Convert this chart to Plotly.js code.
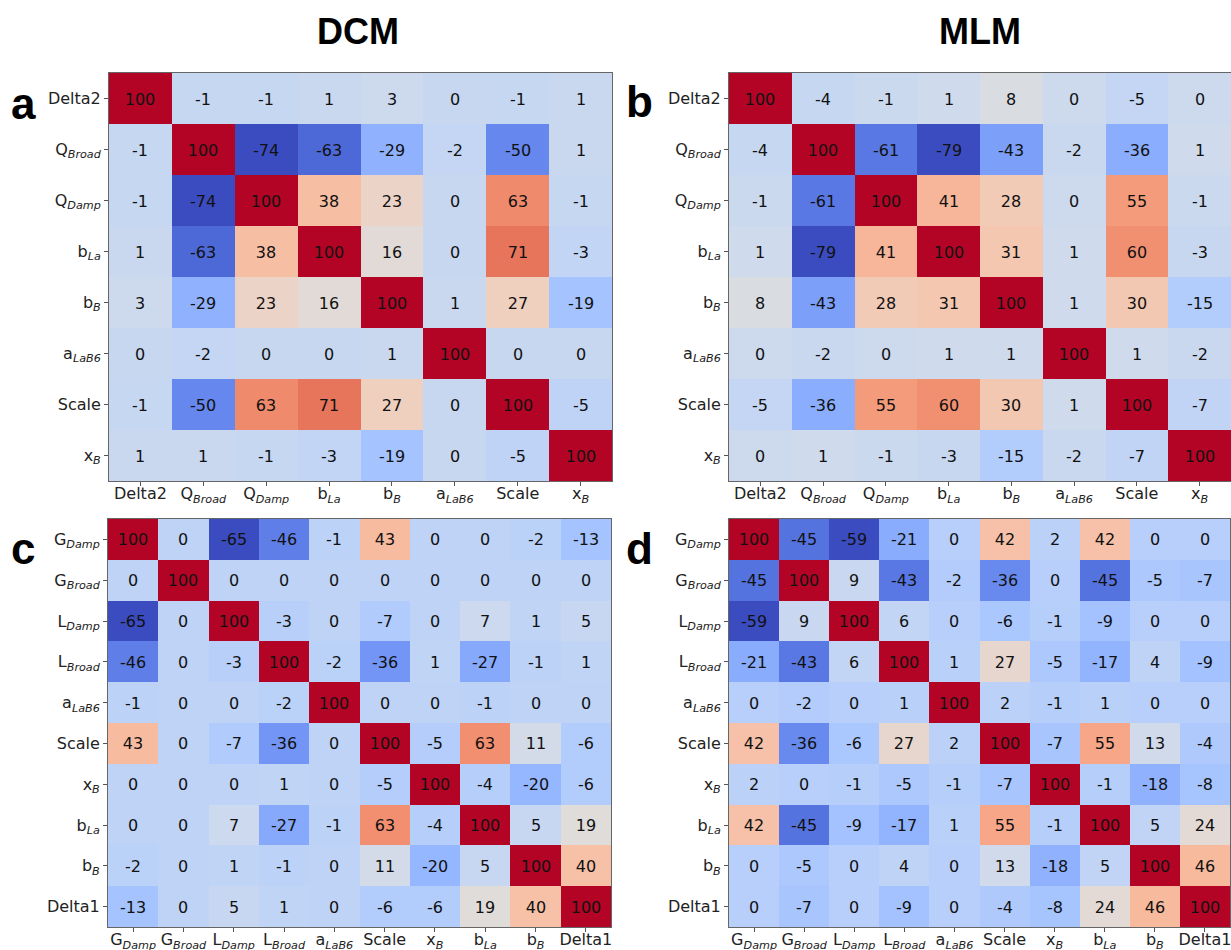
<!DOCTYPE html>
<html>
<head>
<meta charset="utf-8">
<script src="https://cdn.plot.ly/plotly-3.0.1.min.js"></script>
<style>html,body{margin:0;padding:0;background:#fff;}#chart{width:1231px;height:950px;}</style>
</head>
<body>
<div id="chart"></div>
<script>
// ---- Data ----
const labelsTop = ["Delta2", "Q<sub><i>Broad</i></sub>", "Q<sub><i>Damp</i></sub>", "b<sub><i>La</i></sub>",
  "b<sub><i>B</i></sub>", "a<sub><i>LaB6</i></sub>", "Scale", "x<sub><i>B</i></sub>"];
const labelsBottom = ["G<sub><i>Damp</i></sub>", "G<sub><i>Broad</i></sub>", "L<sub><i>Damp</i></sub>",
  "L<sub><i>Broad</i></sub>", "a<sub><i>LaB6</i></sub>", "Scale", "x<sub><i>B</i></sub>",
  "b<sub><i>La</i></sub>", "b<sub><i>B</i></sub>", "Delta1"];

const matrixA = [
  [100, -1, -1, 1, 3, 0, -1, 1],
  [-1, 100, -74, -63, -29, -2, -50, 1],
  [-1, -74, 100, 38, 23, 0, 63, -1],
  [1, -63, 38, 100, 16, 0, 71, -3],
  [3, -29, 23, 16, 100, 1, 27, -19],
  [0, -2, 0, 0, 1, 100, 0, 0],
  [-1, -50, 63, 71, 27, 0, 100, -5],
  [1, 1, -1, -3, -19, 0, -5, 100]
];
const matrixB = [
  [100, -4, -1, 1, 8, 0, -5, 0],
  [-4, 100, -61, -79, -43, -2, -36, 1],
  [-1, -61, 100, 41, 28, 0, 55, -1],
  [1, -79, 41, 100, 31, 1, 60, -3],
  [8, -43, 28, 31, 100, 1, 30, -15],
  [0, -2, 0, 1, 1, 100, 1, -2],
  [-5, -36, 55, 60, 30, 1, 100, -7],
  [0, 1, -1, -3, -15, -2, -7, 100]
];
const matrixC = [
  [100, 0, -65, -46, -1, 43, 0, 0, -2, -13],
  [0, 100, 0, 0, 0, 0, 0, 0, 0, 0],
  [-65, 0, 100, -3, 0, -7, 0, 7, 1, 5],
  [-46, 0, -3, 100, -2, -36, 1, -27, -1, 1],
  [-1, 0, 0, -2, 100, 0, 0, -1, 0, 0],
  [43, 0, -7, -36, 0, 100, -5, 63, 11, -6],
  [0, 0, 0, 1, 0, -5, 100, -4, -20, -6],
  [0, 0, 7, -27, -1, 63, -4, 100, 5, 19],
  [-2, 0, 1, -1, 0, 11, -20, 5, 100, 40],
  [-13, 0, 5, 1, 0, -6, -6, 19, 40, 100]
];
const matrixD = [
  [100, -45, -59, -21, 0, 42, 2, 42, 0, 0],
  [-45, 100, 9, -43, -2, -36, 0, -45, -5, -7],
  [-59, 9, 100, 6, 0, -6, -1, -9, 0, 0],
  [-21, -43, 6, 100, 1, 27, -5, -17, 4, -9],
  [0, -2, 0, 1, 100, 2, -1, 1, 0, 0],
  [42, -36, -6, 27, 2, 100, -7, 55, 13, -4],
  [2, 0, -1, -5, -1, -7, 100, -1, -18, -8],
  [42, -45, -9, -17, 1, 55, -1, 100, 5, 24],
  [0, -5, 0, 4, 0, 13, -18, 5, 100, 46],
  [0, -7, 0, -9, 0, -4, -8, 24, 46, 100]
];
const columnTitles = ["DCM", "MLM"];
const panelLetters = ["a", "b", "c", "d"];

// matplotlib coolwarm
const cw = [[59,76,192],[68,90,204],[77,104,215],[87,117,225],[98,130,234],[108,142,241],[119,154,247],
  [130,165,251],[141,176,254],[152,185,255],[163,194,255],[174,201,253],[184,208,249],[194,213,244],
  [204,217,238],[213,219,230],[221,221,221],[229,216,209],[236,211,197],[241,204,184],[245,196,172],
  [247,187,159],[247,177,147],[247,166,134],[244,154,123],[241,141,111],[236,127,99],[229,112,89],
  [222,96,77],[213,80,66],[203,62,56],[192,40,47],[180,4,38]];
const coolwarm = cw.map((c, i) => [i / (cw.length - 1), `rgb(${c[0]},${c[1]},${c[2]})`]);

const W = 1231, H = 950;
const px = v => v / W, py = v => 1 - v / H;

const panels = [
  {z: matrixA, labels: labelsTop, x0: 109, x1: 612, y0: 73, y1: 481},
  {z: matrixB, labels: labelsTop, x0: 729, x1: 1231, y0: 73, y1: 481},
  {z: matrixC, labels: labelsBottom, x0: 108, x1: 611, y0: 519, y1: 927},
  {z: matrixD, labels: labelsBottom, x0: 729, x1: 1230, y0: 519, y1: 927}
];

const data = [];
const layout = {
  width: W, height: H,
  margin: {l: 0, r: 0, t: 0, b: 0},
  paper_bgcolor: "#fff", plot_bgcolor: "#fff",
  showlegend: false,
  font: {family: "DejaVu Sans", size: 16, color: "#222"},
  annotations: []
};

panels.forEach((p, i) => {
  const n = i + 1;
  const xa = n === 1 ? "x" : "x" + n;
  const ya = n === 1 ? "y" : "y" + n;
  data.push({
    type: "heatmap",
    z: p.z, x: p.labels, y: p.labels,
    text: p.z.map(row => row.map(v => String(v))),
    xaxis: xa, yaxis: ya,
    colorscale: coolwarm, showscale: false,
    zmax: 100,
    texttemplate: "%{text}",
    textfont: {family: "DejaVu Sans", size: 16, color: "#111"},
    hoverinfo: "x+y+z"
  });
  const axCommon = {
    showline: true, mirror: true, linecolor: "#666", linewidth: 1,
    ticks: "outside", ticklen: 4, tickcolor: "#555",
    showgrid: false, zeroline: false, fixedrange: true,
    tickfont: {family: "DejaVu Sans", size: 16, color: "#222"},
    type: "category"
  };
  layout["xaxis" + (n === 1 ? "" : n)] = Object.assign({}, axCommon, {
    domain: [px(p.x0), Math.min(1, px(p.x1))], anchor: ya, tickangle: 0,
    ticklabelstandoff: -6
  });
  layout["yaxis" + (n === 1 ? "" : n)] = Object.assign({}, axCommon, {
    domain: [py(p.y1), py(p.y0)], anchor: xa, autorange: "reversed"
  });
});

// column titles
[[358, columnTitles[0]], [980, columnTitles[1]]].forEach(([x, t]) => {
  layout.annotations.push({
    text: "<b>" + t + "</b>", xref: "paper", yref: "paper",
    x: px(x), y: py(31), xanchor: "center", yanchor: "middle", showarrow: false,
    font: {family: "Liberation Sans", size: 36, color: "#000"}
  });
});
// panel letters
[[23, 103], [640, 102], [23, 548], [640, 548]].forEach(([x, y], i) => {
  layout.annotations.push({
    text: "<b>" + panelLetters[i] + "</b>", xref: "paper", yref: "paper",
    x: px(x), y: py(y), xanchor: "center", yanchor: "middle", showarrow: false,
    font: {family: "Liberation Sans", size: 44, color: "#000"}
  });
});

Plotly.newPlot("chart", data, layout, {displayModeBar: false, staticPlot: true});
</script>
</body>
</html>
